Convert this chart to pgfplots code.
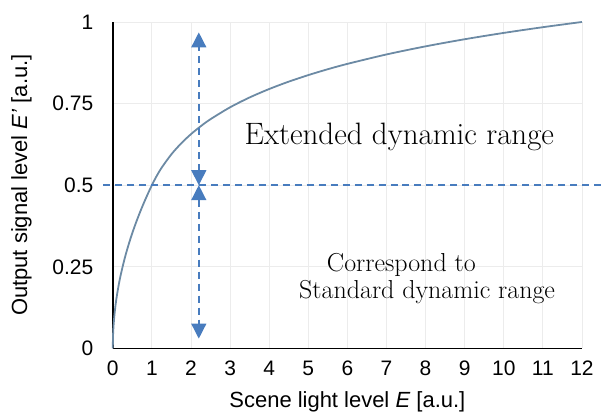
\documentclass[border=0pt]{standalone}
\usepackage{fontspec}
\setmainfont{Liberation Sans}
\newfontfamily\textserif{Latin Modern Roman}
\usepackage{pgfplots}
\pgfplotsset{compat=1.18}
\usetikzlibrary{arrows.meta}

\definecolor{curveblue}{RGB}{108,138,164}
\definecolor{dashblue}{RGB}{72,124,190}
\definecolor{gridgray}{RGB}{236,236,236}

\begin{document}
\begin{tikzpicture}
\begin{axis}[
  scale only axis,
  width=470pt, height=327pt,
  xmin=0, xmax=12, ymin=0, ymax=1,
  xtick={0,1,...,12},
  ytick={0,0.25,0.5,0.75,1},
  yticklabels={0,0.25,0.5,0.75,1},
  axis lines=left,
  axis line style={black, line width=1.6pt, -},
  major tick length=0pt,
  grid=major,
  major grid style={gridgray, line width=0.8pt},
  tick label style={font=\fontsize{21}{24}\selectfont},
  /pgf/number format/assume math mode=true,
  yticklabel style={xshift=-16pt},
  xticklabel style={yshift=-9pt},
  xlabel={Scene light level \textit{E} [a.u.]},
  ylabel={Output signal level \textit{E'} [a.u.]},
  label style={font=\fontsize{22}{25}\selectfont},
  xlabel style={yshift=-9pt},
  ylabel style={yshift=14pt},
  clip=false,
]
% scene-light to signal transfer curve
\addplot[curveblue, line width=1.8pt, smooth] coordinates {
  (0,0) (0.005,0.0354) (0.01,0.05) (0.02,0.0707) (0.04,0.1) (0.06,0.1225)
  (0.08,0.1414) (0.1,0.1581) (0.15,0.1936) (0.2,0.2236) (0.3,0.2739)
  (0.4,0.3162) (0.5,0.3536) (0.6,0.3873) (0.7,0.4183) (0.8,0.4472)
  (0.9,0.4743) (1.0,0.5) (1.1,0.5234) (1.25,0.5536) (1.5,0.5948)
  (1.75,0.6282) (2,0.6564) (2.25,0.6807) (2.5,0.7022) (3,0.7386)
  (3.5,0.7688) (4,0.7946) (4.5,0.8172) (5,0.8372) (5.5,0.8553)
  (6,0.8716) (7,0.9005) (8,0.9253) (9,0.9471) (10,0.9665)
  (11,0.9840) (12,1.0)
};
% reference level at 0.5
\addplot[dashblue, line width=1.4pt, dash pattern=on 7pt off 5pt] coordinates {(-0.25,0.5) (12.52,0.5)};
% range arrows
\addplot[dashblue, line width=1.4pt, dash pattern=on 7pt off 5pt,
  {Triangle[width=15pt,length=15pt]}-{Triangle[width=15pt,length=15pt]}]
  coordinates {(2.2,0.5) (2.2,0.968)};
\addplot[dashblue, line width=1.4pt, dash pattern=on 7pt off 5pt,
  {Triangle[width=15pt,length=15pt]}-{Triangle[width=15pt,length=15pt]}]
  coordinates {(2.2,0.5) (2.2,0.03)};
\node[font=\textserif\fontsize{31}{36}\selectfont] at (axis cs:7.33,0.648) {Extended dynamic range};
\node[font=\textserif\fontsize{26}{30}\selectfont] at (axis cs:7.38,0.256) {Correspond to};
\node[font=\textserif\fontsize{26}{30}\selectfont] at (axis cs:8.04,0.174) {Standard dynamic range};
\coordinate (bbsw) at (rel axis cs:-0.2404,-0.1927);
\coordinate (bbne) at (rel axis cs:1.0426,1.0673);
\end{axis}
\path (bbsw) rectangle (bbne);
\end{tikzpicture}
\end{document}
